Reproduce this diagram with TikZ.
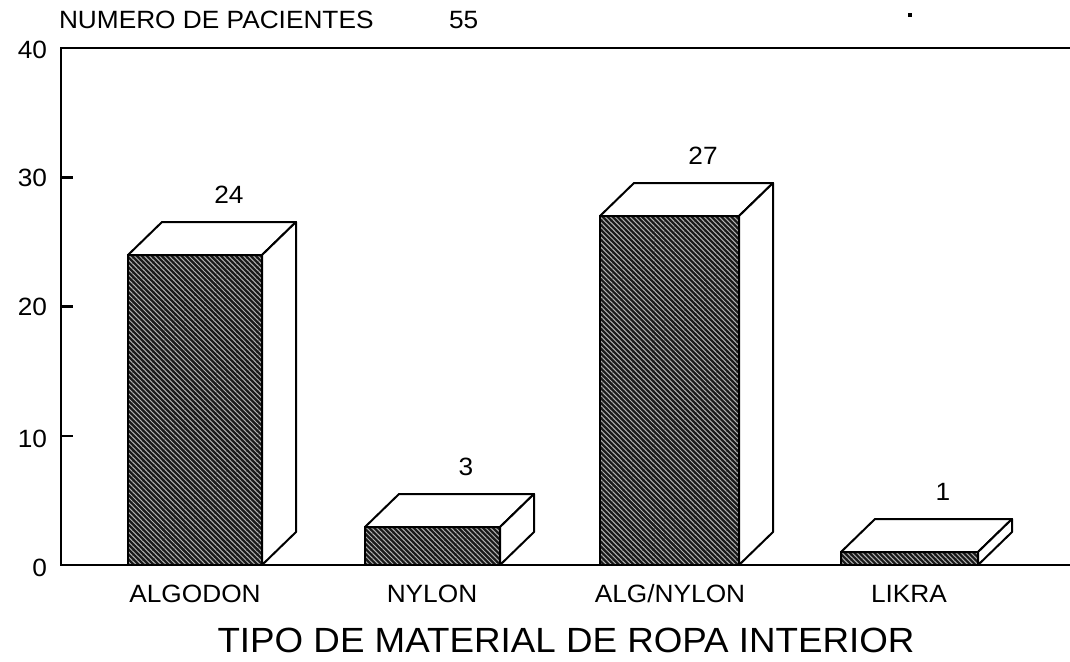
\documentclass[tikz,border=0pt]{standalone}
\usepackage{fontspec}
\newfontfamily\plotfont[FakeStretch=1.05]{Liberation Sans}
\usetikzlibrary{patterns.meta}
\newcommand\plotbar[3]{%
  \fill[barfront] (#1,565) rectangle (#2,#3);
  \fill[barhatch] (#1,565) rectangle (#2,#3);
  \draw[baredge] (#1,565) rectangle (#2,#3);
  \draw[barface] (#1,#3) -- ({#1+34},{#3-33}) -- ({#2+34},{#3-33}) -- (#2,#3) -- cycle;
  \draw[barface] (#2,#3) -- ({#2+34},{#3-33}) -- ({#2+34},532) -- (#2,565) -- cycle;
}
\begin{document}
\begin{tikzpicture}[x=1pt,y=-1pt,line width=2pt,
  txt/.style={font=\plotfont\fontsize{25}{30}\selectfont, inner sep=0pt},
  bigtxt/.style={font=\plotfont\fontsize{35}{40}\selectfont, inner sep=0pt},
  barfront/.style={fill=black!90},
  barhatch/.style={pattern={Lines[angle=-45,distance=3.5pt,line width=1pt]}, pattern color=gray!60},
  baredge/.style={draw=black, line width=2pt},
  barface/.style={fill=white, draw=black, line width=2pt, line join=round},
  axisline/.style={draw=black, line width=2.4pt}]
\useasboundingbox (0,0) rectangle (1070,661);

% axes frame
\coordinate (ytop) at (61,48);
\coordinate (ybot) at (61,565);
\coordinate (topright) at (1070,48);
\coordinate (botright) at (1070,565);
\draw[axisline] (topright) -- (ytop) -- (ybot) -- (botright);
\draw[axisline] (61,177.3) -- (73,177.3);
\draw[axisline] (61,306.5) -- (73,306.5);
\draw[axisline] (61,435.8) -- (73,435.8);

% axis labels
\node[txt, anchor=east] (y40) at (48,50) {40};
\node[txt, anchor=east] (y30) at (48,178) {30};
\node[txt, anchor=east] (y20) at (48,307) {20};
\node[txt, anchor=east] (y10) at (48,439) {10};
\node[txt, anchor=east] (y0) at (48,568) {0};

% bars
\plotbar{128}{262}{255}
\plotbar{365}{500}{527}
\plotbar{600}{739}{216}
\plotbar{841}{978}{552}

% values
\node[txt] (v24) at (229,195) {24};
\node[txt] (v3) at (466,467) {3};
\node[txt] (v27) at (703,156) {27};
\node[txt] (v1) at (943,492) {1};

% categories
\node[txt] (cat1) at (195,594) {ALGODON};
\node[txt] (cat2) at (432,594) {NYLON};
\node[txt] (cat3) at (670,594) {ALG/NYLON};
\node[txt] (cat4) at (909,594) {LIKRA};

% titles
\node[txt, anchor=west] (title) at (58,20) {NUMERO DE PACIENTES};
\node[txt, anchor=west] (total) at (448,20) {55};
\node[bigtxt] (xtitle) at (566,640) {TIPO DE MATERIAL DE ROPA INTERIOR};
\fill (908,13) rectangle (912,17);
\end{tikzpicture}
\end{document}
